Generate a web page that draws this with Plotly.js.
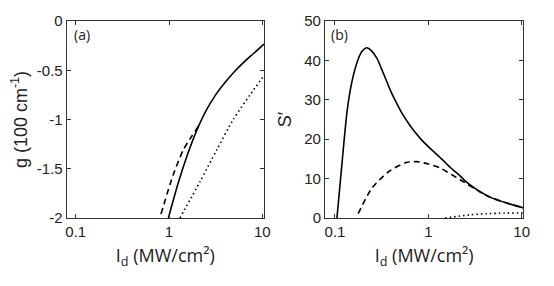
<!DOCTYPE html>
<html>
<head>
<meta charset="utf-8">
<script src="https://cdn.plot.ly/plotly-3.0.1.min.js"></script>
<style>html,body{margin:0;padding:0;background:#fff;}#chart{width:554px;height:286px;}</style>
</head>
<body>
<div id="chart"></div>
<script>
// Panel (a): g (100 cm^-1) vs I_d (MW/cm^2)
const aSolidX  = [0.984, 1.259, 1.585, 1.995, 2.512, 3.162, 3.981, 5.012, 6.31, 7.943, 10.0, 10.42];
const aSolidY  = [-2.0, -1.64, -1.35, -1.105, -0.905, -0.75, -0.625, -0.515, -0.42, -0.335, -0.25, -0.235];
const aDashX   = [0.82, 1.11, 1.42, 1.75, 2.10];
const aDashY   = [-1.96, -1.56, -1.31, -1.17, -1.06];
const aDotX    = [1.31, 2.15, 3.24, 4.89, 7.38, 10.42];
const aDotY    = [-2.0, -1.63, -1.31, -1.0, -0.75, -0.555];

// Panel (b): S' vs I_d (MW/cm^2)
const bSolidX  = [0.105, 0.118, 0.135, 0.152, 0.174, 0.195, 0.220, 0.245, 0.282, 0.316, 0.355, 0.389, 0.447, 0.525, 0.631, 0.708, 0.841, 1.0, 1.413, 1.778, 2.188, 2.512, 3.162, 4.571, 6.918, 10.0, 10.4];
const bSolidY  = [0, 13.0, 27.2, 34.6, 39.8, 42.3, 43.2, 42.5, 40.5, 37.8, 34.9, 32.6, 29.6, 26.5, 23.6, 22.0, 19.9, 18.1, 14.8, 12.5, 10.7, 9.3, 7.5, 5.3, 3.8, 2.7, 2.6];
const bDashX   = [0.177, 0.249, 0.377, 0.568, 0.75, 1.0, 1.33, 2.19, 3.58, 4.571, 6.918, 10.0, 10.4];
const bDashY   = [1.1, 7.6, 11.8, 14.0, 14.3, 13.7, 12.7, 9.7, 6.6, 5.3, 3.8, 2.7, 2.6];
const bDotX    = [1.51, 2.8, 4.2, 6.5, 10.4];
const bDotY    = [0, 0.8, 1.1, 1.22, 1.27];

const xTickVals = [0.1, 1, 10];
const xTickText = ['0.1', '1', '10'];
const aYTickVals = [0, -0.5, -1, -1.5, -2];
const aYTickText = ['0', '-0.5', '-1', '-1.5', '-2'];
const bYTickVals = [0, 10, 20, 30, 40, 50];

const lineBase = {color: '#000', width: 1.6, shape: 'spline', smoothing: 0.7};
function tr(x, y, dash, xa, ya) {
  return {x: x, y: y, mode: 'lines', xaxis: xa, yaxis: ya, hoverinfo: 'skip', cliponaxis: true,
          line: Object.assign({}, lineBase, {dash: dash}), showlegend: false};
}
const data = [
  tr(aSolidX, aSolidY, 'solid', 'x', 'y'),
  tr(aDashX, aDashY, '6px,4px', 'x', 'y'),
  tr(aDotX, aDotY, '1.5px,3px', 'x', 'y'),
  tr(bSolidX, bSolidY, 'solid', 'x2', 'y2'),
  tr(bDashX, bDashY, '6px,4px', 'x2', 'y2'),
  tr(bDotX, bDotY, '1.5px,3px', 'x2', 'y2')
];

const tickFont = {family: 'Liberation Sans, Arial, sans-serif', size: 15, color: '#222'};
const titleFontX = {family: 'Open Sans, sans-serif', size: 18, color: '#222'};
const titleFontY = {family: 'Liberation Sans, Arial, sans-serif', size: 18, color: '#222'};
const axCommon = {showline: true, linecolor: '#333', linewidth: 1, mirror: 'ticks',
  ticks: 'inside', ticklen: 4, tickcolor: '#333', showgrid: false, zeroline: false, tickfont: tickFont};

const layout = {
  width: 554, height: 286,
  margin: {l: 0, r: 0, t: 21, b: 68},
  paper_bgcolor: '#fff', plot_bgcolor: '#fff',
  xaxis: Object.assign({}, axCommon, {type: 'log', domain: [0.1204, 0.4765], range: [-1.097, 1.018],
    tickvals: xTickVals, ticktext: xTickText, anchor: 'y',
    title: {text: 'I<sub>d</sub> (MW/cm²)', font: titleFontX, standoff: 10}}),
  yaxis: Object.assign({}, axCommon, {range: [-2, 0], domain: [0, 1], anchor: 'x',
    tickvals: aYTickVals, ticktext: aYTickText,
    title: {text: 'g (100 cm<sup>-1</sup>)', font: titleFontY, standoff: 4}}),
  xaxis2: Object.assign({}, axCommon, {type: 'log', domain: [0.5866, 0.9446], range: [-1.107, 1.017],
    tickvals: xTickVals, ticktext: xTickText, anchor: 'y2',
    title: {text: 'I<sub>d</sub> (MW/cm²)', font: titleFontX, standoff: 10}}),
  yaxis2: Object.assign({}, axCommon, {range: [0, 50], domain: [0, 1], anchor: 'x2',
    tickvals: bYTickVals,
    title: {text: 'S′', font: titleFontY, standoff: 7}}),
  annotations: [
    {text: '(a)', xref: 'x domain', yref: 'y domain', x: 0.025, y: 0.929, xanchor: 'left', yanchor: 'middle',
     showarrow: false, font: {family: 'Open Sans, sans-serif', size: 14, color: '#222'}},
    {text: '(b)', xref: 'x2 domain', yref: 'y2 domain', x: 0.02, y: 0.929, xanchor: 'left', yanchor: 'middle',
     showarrow: false, font: {family: 'Open Sans, sans-serif', size: 14, color: '#222'}}
  ]
};
Plotly.newPlot('chart', data, layout, {staticPlot: true, displayModeBar: false});
</script>
</body>
</html>
